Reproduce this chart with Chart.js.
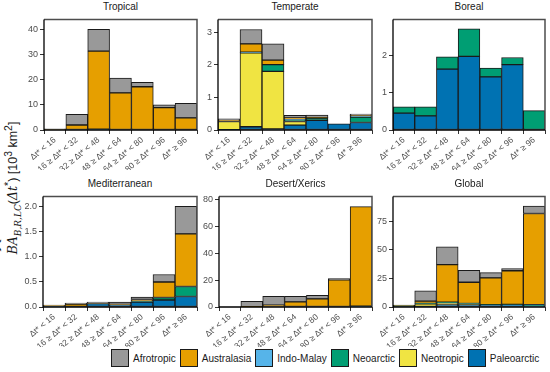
<!DOCTYPE html>
<html>
<head>
<meta charset="utf-8">
<script src="https://cdn.jsdelivr.net/npm/chart.js@4.4.1/dist/chart.umd.min.js"></script>
<style>
body{margin:0;background:#fff;width:550px;height:372px;position:relative;overflow:hidden;font-family:"Liberation Sans",Arial,sans-serif}
canvas{position:absolute}
.title{position:absolute;font-size:10px;color:#1a1a1a;text-align:center;width:160px;line-height:12px}
#ytitle{position:absolute;left:13px;top:188px;transform:translate(-50%,-50%) rotate(-90deg);white-space:nowrap;font-size:12.5px;color:#1a1a1a}
#ytitle i{font-family:"DejaVu Serif",serif}
.hat{position:relative;display:inline-block}
.hat b{position:absolute;left:0;right:0;top:-10px;font-weight:normal;text-align:center;transform:scaleX(2.4);font-style:normal;font-size:11px}
#legend{position:absolute;left:111px;top:349px;display:flex;align-items:center;font-size:10px;color:#1a1a1a}
#legend span.box{display:inline-block;width:16px;height:16px;border:1px solid #1a1a1a;margin-right:4px}
#legend span.lab{margin-right:4px}
</style>
</head>
<body>
<div id="ytitle"><span class="hat"><i>BA</i><b>^</b></span><sub><i style="font-size:9px">B,R,LC</i></sub>(<i>Δt</i><sup>*</sup>) [10<sup>3</sup> km<sup>2</sup>]</div>
<div id="legend"></div>
<script>
const categories = ['Δt* < 16', '16 ≥ Δt* < 32', '32 ≥ Δt* < 48', '48 ≥ Δt* < 64', '64 ≥ Δt* < 80', '80 ≥ Δt* < 96', 'Δt* ≥ 96']

// stacking order, bottom to top
const seriesNames = ['Paleoarctic', 'Neotropic', 'Neoarctic', 'Indo-Malay', 'Australasia', 'Afrotropic']
const legendOrder = ['Afrotropic', 'Australasia', 'Indo-Malay', 'Neoarctic', 'Neotropic', 'Paleoarctic']
const colors = {
    'Afrotropic': '#999999',
    'Australasia': '#E69F00',
    'Indo-Malay': '#56B4E9',
    'Neoarctic': '#009E73',
    'Neotropic': '#F0E442',
    'Paleoarctic': '#0072B2'
}

const tropical = {
    'Paleoarctic': [0, 0, 0.3, 0, 0, 0, 0],
    'Neotropic': [0, 0, 0, 0, 0, 0, 0],
    'Neoarctic': [0, 0, 0, 0, 0, 0, 0],
    'Indo-Malay': [0, 0.2, 0, 0, 0, 0, 0],
    'Australasia': [0.2, 1.8, 31.1, 14.8, 17.2, 8.9, 4.8],
    'Afrotropic': [0.3, 4.2, 8.6, 5.9, 1.8, 1.1, 5.8]
}
const temperate = {
    'Paleoarctic': [0.01, 0.1, 0.03, 0.15, 0.3, 0.19, 0.23],
    'Neotropic': [0.25, 2.27, 1.77, 0.11, 0, 0, 0],
    'Neoarctic': [0, 0, 0.21, 0.05, 0.07, 0, 0.17],
    'Indo-Malay': [0, 0.02, 0, 0.02, 0, 0, 0.03],
    'Australasia': [0.05, 0.26, 0.14, 0.04, 0.01, 0, 0.01],
    'Afrotropic': [0.03, 0.44, 0.5, 0.08, 0.08, 0, 0.05]
}
const boreal = {
    'Paleoarctic': [0.45, 0.38, 1.63, 1.97, 1.42, 1.75, 0],
    'Neotropic': [0, 0, 0, 0, 0, 0, 0],
    'Neoarctic': [0.17, 0.24, 0.33, 0.74, 0.24, 0.19, 0.52],
    'Indo-Malay': [0, 0, 0, 0, 0, 0, 0],
    'Australasia': [0, 0, 0, 0, 0, 0, 0],
    'Afrotropic': [0, 0, 0, 0, 0, 0, 0]
}
const mediterranean = {
    'Paleoarctic': [0.02, 0.01, 0.07, 0.04, 0.1, 0.14, 0.21],
    'Neotropic': [0, 0, 0, 0, 0, 0, 0],
    'Neoarctic': [0, 0, 0, 0, 0.01, 0.05, 0.2],
    'Indo-Malay': [0, 0, 0, 0, 0, 0, 0],
    'Australasia': [0.01, 0.05, 0.01, 0.01, 0.04, 0.31, 1.05],
    'Afrotropic': [0.01, 0.02, 0.02, 0.05, 0.05, 0.15, 0.55]
}
const desert = {
    'Paleoarctic': [0, 0, 0, 0, 0, 0, 0.6],
    'Neotropic': [0, 0, 0, 0, 0, 0, 0],
    'Neoarctic': [0, 0, 0, 0, 0, 0, 0],
    'Indo-Malay': [0, 0, 0, 0, 0, 0, 0],
    'Australasia': [0, 0.2, 1.4, 3.8, 6.1, 20.2, 74.2],
    'Afrotropic': [0, 4.1, 6.5, 4.1, 2.6, 0.9, 0]
}
const globalData = {
    'Paleoarctic': [0.5, 0.5, 1.8, 2.2, 1.8, 2.1, 1.0],
    'Neotropic': [0.25, 2.3, 1.8, 0.1, 0, 0, 0],
    'Neoarctic': [0.2, 0.25, 0.55, 0.8, 0.3, 0.25, 0.9],
    'Indo-Malay': [0, 0, 0, 0, 0, 0, 0.05],
    'Australasia': [0.3, 2.1, 33.0, 18.6, 23.4, 29.4, 80.0],
    'Afrotropic': [0.35, 9.1, 15.6, 10.5, 4.6, 2.0, 6.4]
}

const panels = [
    {name: 'Tropical', data: tropical, x: 44, y: 15, w: 153, max: 44, step: 10, dec: 0},
    {name: 'Temperate', data: temperate, x: 218, y: 15, w: 154, max: 3.4, step: 1, dec: 0},
    {name: 'Boreal', data: boreal, x: 393, y: 15, w: 152, max: 2.96, step: 1, dec: 0},
    {name: 'Mediterranean', data: mediterranean, x: 43, y: 192, w: 154, max: 2.21, step: 0.5, dec: 1},
    {name: 'Desert/Xerics', data: desert, x: 219, y: 192, w: 153, max: 82.4, step: 20, dec: 0},
    {name: 'Global', data: globalData, x: 393, y: 192, w: 152, max: 96.9, step: 25, dec: 0}
]
const plotH = 115
const yW = 40
const xH = 40

const frame = {
    id: 'frame',
    afterDatasetsDraw(chart){
        const {ctx, chartArea: a} = chart
        ctx.save()
        ctx.strokeStyle = '#4d4d4d'
        ctx.lineWidth = 1.5
        ctx.beginPath()
        ctx.moveTo(a.left, a.top)
        ctx.lineTo(a.right, a.top)
        ctx.lineTo(a.right, a.bottom)
        ctx.stroke()
        ctx.strokeStyle = '#000'
        ctx.lineWidth = 1.3
        ctx.beginPath()
        ctx.moveTo(a.left, a.top)
        ctx.lineTo(a.left, a.bottom)
        ctx.lineTo(a.right, a.bottom)
        ctx.stroke()
        ctx.restore()
    }
}

panels.forEach(p => {
    const t = document.createElement('div')
    t.className = 'title'
    t.textContent = p.name
    t.style.left = (p.x + p.w / 2 - 80) + 'px'
    t.style.top = (p.y - 14) + 'px'
    document.body.appendChild(t)

    const c = document.createElement('canvas')
    c.width = p.w + yW + 4
    c.height = plotH + 3 + xH
    c.style.left = (p.x - yW) + 'px'
    c.style.top = (p.y - 3) + 'px'
    document.body.appendChild(c)

    const datasets = seriesNames.map(s => ({
        label: s,
        data: p.data[s],
        backgroundColor: colors[s],
        borderColor: '#1a1a1a',
        borderWidth: 1,
        borderSkipped: false,
        barPercentage: 1,
        categoryPercentage: 1
    }))

    new Chart(c, {
        type: 'bar',
        data: {labels: categories, datasets},
        options: {
            responsive: false,
            animation: false,
            devicePixelRatio: 1,
            layout: {padding: {top: 3, right: 4, left: 0, bottom: 0}},
            scales: {
                x: {
                    stacked: true,
                    afterFit: s => { s.height = xH },
                    grid: {display: true, drawOnChartArea: false, drawTicks: true, tickLength: 4, color: '#333'},
                    border: {display: false},
                    ticks: {
                        minRotation: 40, maxRotation: 40, padding: 1,
                        color: '#4d4d4d', font: {size: 8.5, family: '"Liberation Sans", Arial, sans-serif'}
                    }
                },
                y: {
                    stacked: true,
                    min: 0,
                    max: p.max,
                    afterFit: s => { s.width = yW },
                    afterBuildTicks: s => {
                        const tks = []
                        for (let i = 0; i * p.step <= p.max + 1e-9; i++) tks.push({value: +(i * p.step).toFixed(3)})
                        s.ticks = tks
                    },
                    grid: {display: true, drawOnChartArea: false, drawTicks: true, tickLength: 4, color: '#333'},
                    border: {display: false},
                    ticks: {
                        stepSize: p.step,
                        padding: 2,
                        color: '#4d4d4d',
                        font: {size: 9, family: '"Liberation Sans", Arial, sans-serif'},
                        callback: v => Number(v).toFixed(p.dec)
                    }
                }
            },
            plugins: {
                legend: {display: false},
                tooltip: {enabled: false}
            }
        },
        plugins: [frame]
    })
})

const legend = document.getElementById('legend')
legendOrder.forEach(s => {
    const b = document.createElement('span')
    b.className = 'box'
    b.style.background = colors[s]
    const l = document.createElement('span')
    l.className = 'lab'
    l.textContent = s
    legend.appendChild(b)
    legend.appendChild(l)
})
</script>
</body>
</html>
